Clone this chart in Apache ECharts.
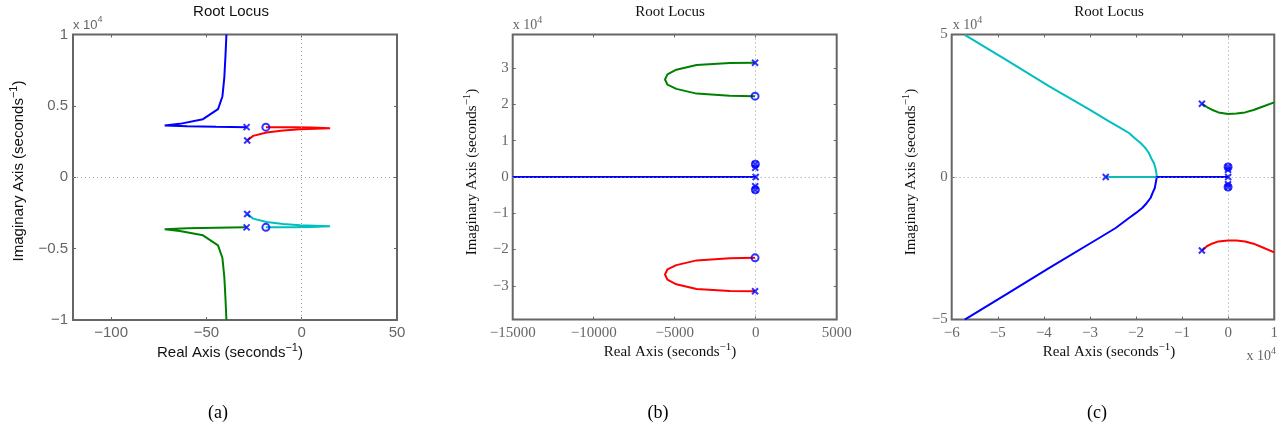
<!DOCTYPE html>
<html>
<head>
<meta charset="utf-8">
<script src="https://cdn.jsdelivr.net/npm/echarts@6/dist/echarts.min.js"></script>
<style>
  html, body { margin: 0; padding: 0; background: #fff; }
  #chart { width: 1281px; height: 429px; }
</style>
</head>
<body>
<div id="chart"></div>
<script>
// ---- Panel (a): loci around the lightly damped pole pairs, [real, imag] in s^-1 ----
const aBlue  = [[-28.9, 3510], [-45, 3540], [-60, 3580], [-71.9, 3620], [-64, 3740], [-51.8, 4070],
                [-43.9, 4770], [-41.6, 5660], [-40.6, 7000], [-40.0, 8500], [-39.5, 10000]];
const aRed   = [[-28.6, 2570], [-25.5, 2900], [-18.4, 3130], [-9.7, 3270], [-0.9, 3370], [14.9, 3440],
                [5, 3480], [-5, 3500], [-18.8, 3510]];
const aCyan  = [[-28.6, -2570], [-25.5, -2900], [-18.4, -3130], [-9.7, -3270], [-0.9, -3370], [14.9, -3440],
                [5, -3480], [-5, -3500], [-18.8, -3510]];
const aGreen = [[-28.9, -3510], [-45, -3540], [-60, -3580], [-71.9, -3650], [-64, -3760], [-51.8, -4070],
                [-43.9, -4770], [-41.6, -5660], [-40.6, -7000], [-40.0, -8500], [-39.5, -10000]];
const aPoles = [[-28.9, 3510], [-28.6, 2570], [-28.6, -2570], [-28.9, -3510]];
const aZeros = [[-18.8, 3510], [-18.8, -3510]];

// ---- Panel (b): high-frequency pole pairs and the real-axis branch ----
const bGreen = [[-40, 31500], [-1600, 31450], [-3650, 30900], [-4900, 29600], [-5450, 28300], [-5600, 26900],
                [-5450, 25500], [-4900, 24300], [-3650, 23000], [-1600, 22400], [-40, 22300]];
const bRed   = [[-40, -22300], [-1600, -22400], [-3650, -23000], [-4900, -24300], [-5450, -25500], [-5600, -26900],
                [-5450, -28300], [-4900, -29600], [-3650, -30900], [-1600, -31450], [-40, -31500]];
const bBlue  = [[0, 0], [-15000, 0]];
const bPoles = [[0, 0], [-40, 31500], [-40, -31500], [-28.9, 3510], [-28.6, 2570], [-28.6, -2570], [-28.9, -3510]];
const bZeros = [[-40, 22300], [-40, -22300], [-18.8, 3510], [-18.8, -3510]];

// ---- Panel (c): wide view with the breakaway point on the real axis ----
const cCyan  = [[-26570, 0], [-15490, 0], [-15490, 200], [-15630, 1960], [-15850, 3500], [-16130, 4910],
                [-16700, 6600], [-17210, 8420], [-18000, 10200], [-19010, 11930], [-20200, 13500],
                [-21530, 15440], [-23500, 17300], [-25850, 19510], [-30170, 23720], [-38810, 31790],
                [-48000, 40900], [-57170, 49900]];
const cBlue  = [[0, 0], [-15490, 0], [-15490, -350], [-15920, -3860], [-16400, -5600], [-16850, -7370],
                [-17700, -9200], [-18660, -10880], [-20000, -12600], [-21530, -14390], [-24410, -17890],
                [-28000, -21400], [-38810, -31900], [-48000, -41000], [-57170, -50070]];
const cGreen = [[-5700, 25720], [-4620, 24560], [-3540, 23610], [-2100, 22670], [0, 22100], [1800, 22250],
                [3670, 22670], [5500, 23500], [7260, 24560], [10000, 26180]];
const cRed   = [[-5700, -25860], [-4620, -24300], [-3540, -23400], [-2100, -22600], [0, -22240], [1800, -22300],
                [3670, -22600], [5500, -23400], [7260, -24560], [10000, -26460]];
const cPoles = [[-26570, 0], [-5700, 25700], [-5700, -25800], [0, 0],
                [-28.9, 3510], [-28.6, 2570], [-28.6, -2570], [-28.9, -3510]];
const cZeros = [[-18.8, 3510], [-18.8, -3510]];

// ---- Axis ranges and tick steps ----
const aXRange = [-120, 50],      aXStep = 50;
const aYRange = [-10000, 10000], aYStep = 5000;
const bXRange = [-15000, 5000],  bXStep = 5000;
const bYRange = [-39300, 39300], bYStep = 10000;
const cXRange = [-60000, 10000], cXStep = 10000;
const cYRange = [-50000, 50000], cYStep = 50000;

const BLUE = '#0000ff', GREEN = '#008000', RED = '#ff0000', CYAN = '#00bfbf';
const BOX = '#666666', TICKTXT = '#666666', TXT = '#111111';
const SANS = '"Liberation Sans", Arial, sans-serif';
const SERIF = '"Liberation Serif", "Times New Roman", serif';

const grids = [
  { left: 73, top: 34.5, width: 324, height: 285.5 },
  { left: 512.7, top: 34.5, width: 324, height: 285 },
  { left: 951.7, top: 34.5, width: 324.3, height: 285 }
].map(g => Object.assign(g, { show: true, borderColor: BOX, borderWidth: 2, backgroundColor: '#fff' }));

function minus(s) { return String(s).replace('-', '\u2212'); }

function labelFmt(step, scale) {
  return function (v) {
    const k = v / step;
    if (Math.abs(k - Math.round(k)) > 1e-6) return '';
    const q = Math.round(v / scale * 1000) / 1000;
    return minus(q);
  };
}

function valueAxis(idx, pos, range, step, font, fontSize, scale, showLabel, margin) {
  return {
    type: 'value', position: pos, gridIndex: idx,
    min: range[0], max: range[1],
    splitNumber: Math.round((range[1] - range[0]) / step),
    minInterval: step, maxInterval: step,
    axisLine: { show: false, onZero: false },
    splitLine: { show: false },
    axisTick: { show: true, inside: true, length: 3, lineStyle: { color: BOX, width: 1 } },
    axisLabel: {
      show: showLabel, color: TICKTXT, fontFamily: font, fontSize: fontSize, margin: margin,
      formatter: labelFmt(step, scale)
    }
  };
}

const xAxes = [
  valueAxis(0, 'bottom', aXRange, aXStep, SANS, 15, 1, true, 5),
  valueAxis(1, 'bottom', bXRange, bXStep, SERIF, 15, 1, true, 6),
  valueAxis(2, 'bottom', cXRange, cXStep, SERIF, 15, 1e4, true, 6),
  valueAxis(0, 'top', aXRange, aXStep, SANS, 15, 1, false, 6),
  valueAxis(1, 'top', bXRange, bXStep, SERIF, 15, 1, false, 6),
  valueAxis(2, 'top', cXRange, cXStep, SERIF, 15, 1e4, false, 6)
];
const yAxes = [
  valueAxis(0, 'left', aYRange, aYStep, SANS, 15, 1e4, true, 5),
  valueAxis(1, 'left', bYRange, bYStep, SERIF, 15, 1e4, true, 4),
  valueAxis(2, 'left', cYRange, cYStep, SERIF, 15, 1e4, true, 4),
  valueAxis(0, 'right', aYRange, aYStep, SANS, 15, 1e4, false, 5),
  valueAxis(1, 'right', bYRange, bYStep, SERIF, 15, 1e4, false, 4),
  valueAxis(2, 'right', cYRange, cYStep, SERIF, 15, 1e4, false, 4)
];

function locus(i, data, color) {
  return {
    type: 'line', xAxisIndex: i, yAxisIndex: i, data: data,
    showSymbol: false, symbol: 'none', smooth: false, silent: true, z: 3,
    lineStyle: { color: color, width: 2 }
  };
}

const CROSS = 'path://M0,0L10,10M10,0L0,10';
function marks(i, data, symbol, size) {
  return {
    type: 'scatter', xAxisIndex: i, yAxisIndex: i, data: data,
    symbol: symbol, symbolSize: size, silent: true, z: 5,
    itemStyle: { color: 'rgba(0,0,0,0)', borderColor: BLUE, borderWidth: 2 }
  };
}

function zeroLines(i) {
  return {
    type: 'line', xAxisIndex: i, yAxisIndex: i, data: [], silent: true, z: 1,
    markLine: {
      silent: true, symbol: 'none', animation: false, label: { show: false },
      lineStyle: { color: '#9a9a9a', type: [1, 3], width: 1 },
      data: [{ xAxis: 0 }, { yAxis: 0 }]
    }
  };
}

const series = [
  zeroLines(0), zeroLines(1), zeroLines(2),
  locus(0, aBlue, BLUE), locus(0, aRed, RED), locus(0, aCyan, CYAN), locus(0, aGreen, GREEN),
  locus(1, bBlue, BLUE), locus(1, bGreen, GREEN), locus(1, bRed, RED),
  locus(2, cCyan, CYAN), locus(2, cBlue, BLUE), locus(2, cGreen, GREEN), locus(2, cRed, RED),
  marks(0, aPoles, CROSS, 6), marks(0, aZeros, 'circle', 7),
  marks(1, bPoles, CROSS, 6), marks(1, bZeros, 'circle', 7),
  marks(2, cPoles, CROSS, 6), marks(2, cZeros, 'circle', 7)
];

// ---- Titles, axis names with superscripts, exponent notes and captions ----
function richStyles(font, size, color) {
  return {
    m: { fontFamily: font, fontSize: size, lineHeight: size + 6, fill: color, color: color },
    s: { fontFamily: font, fontSize: Math.round(size * 0.7), lineHeight: Math.round(size * 0.7),
         verticalAlign: 'top', fill: color, color: color }
  };
}
function supText(main, sup, font, size, color) {
  return { text: '{m|' + main + '}{s|' + sup + '}', rich: richStyles(font, size, color) };
}
function axisName(font, size) {
  return { text: '{m|Real Axis (seconds}{s|\u22121}{m|)}', rich: richStyles(font, size, TXT) };
}
function yName(font, size) {
  return { text: '{m|Imaginary Axis (seconds}{s|\u22121}{m|)}', rich: richStyles(font, size, TXT) };
}
function txt(x, y, style, extra) {
  return Object.assign({ type: 'text', x: x, y: y, silent: true, z: 10, style: style }, extra || {});
}
function plain(text, font, size, color, align) {
  return { text: text, fontFamily: font, fontSize: size, fill: color, align: align || 'center', verticalAlign: 'middle' };
}
function place(style, align) {
  return Object.assign(style, { align: align, verticalAlign: 'middle' });
}

const graphics = [
  // panel (a)
  txt(231, 12, plain('Root Locus', SANS, 15, TXT)),
  txt(73, 25, place(supText('x 10', '4', SANS, 13, TICKTXT), 'left')),
  txt(230, 353, place(axisName(SANS, 15), 'center')),
  txt(19, 171, place(yName(SANS, 15), 'center'), { rotation: Math.PI / 2 }),
  txt(218, 413, plain('(a)', SERIF, 18, '#000')),
  // panel (b)
  txt(670, 12, plain('Root Locus', SERIF, 15, TXT)),
  txt(512.7, 25, place(supText('x 10', '4', SERIF, 14, TICKTXT), 'left')),
  txt(670, 352, place(axisName(SERIF, 15), 'center')),
  txt(472, 172, place(yName(SERIF, 15), 'center'), { rotation: Math.PI / 2 }),
  txt(658, 413, plain('(b)', SERIF, 18, '#000')),
  // panel (c)
  txt(1109, 12, plain('Root Locus', SERIF, 15, TXT)),
  txt(952.7, 25, place(supText('x 10', '4', SERIF, 14, TICKTXT), 'left')),
  txt(1276, 356, place(supText('x 10', '4', SERIF, 14, TICKTXT), 'right')),
  txt(1109, 352, place(axisName(SERIF, 15), 'center')),
  txt(911, 172, place(yName(SERIF, 15), 'center'), { rotation: Math.PI / 2 }),
  txt(1097, 413, plain('(c)', SERIF, 18, '#000'))
];

const chart = echarts.init(document.getElementById('chart'), null, { renderer: 'canvas' });
chart.setOption({
  animation: false,
  backgroundColor: '#fff',
  grid: grids,
  xAxis: xAxes,
  yAxis: yAxes,
  series: series,
  graphic: graphics
});
</script>
</body>
</html>
